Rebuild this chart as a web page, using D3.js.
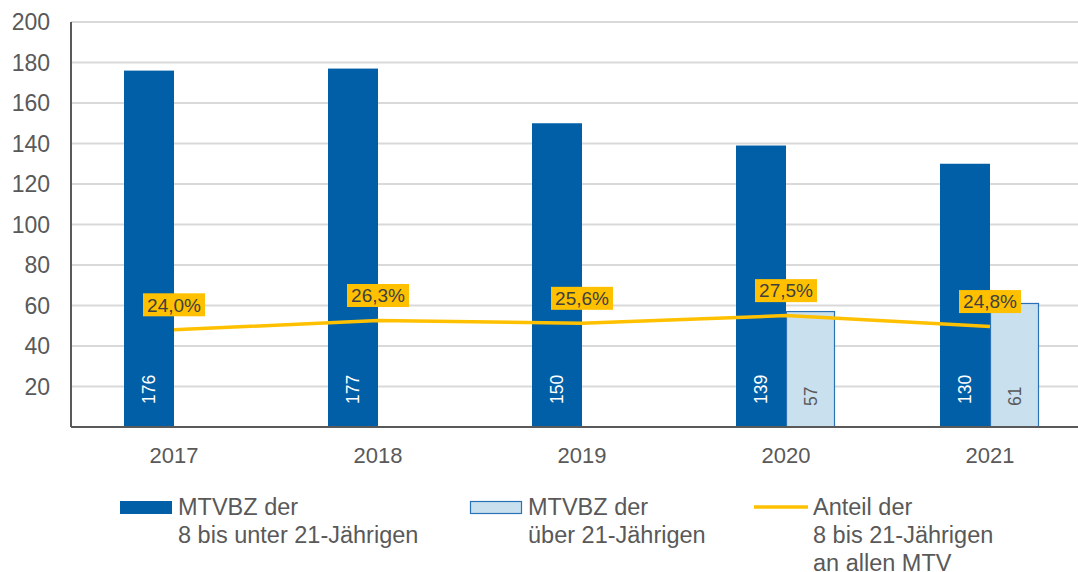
<html>
<head>
<meta charset="utf-8">
<script src="https://d3js.org/d3.v7.min.js"></script>
<style>
  body { margin: 0; background: #fff; }
  text { font-family: "Liberation Sans", Arial, sans-serif; fill: #595959; }
</style>
</head>
<body>
<script>
// data
var years = ["2017", "2018", "2019", "2020", "2021"];
var youngCount = [176, 177, 150, 139, 130];   // MTVBZ der 8 bis unter 21-Jährigen
var olderCount = [null, null, null, 57, 61];  // MTVBZ der über 21-Jährigen
var share = [24.0, 26.3, 25.6, 27.5, 24.8];   // Anteil in %
var yTicks = [20, 40, 60, 80, 100, 120, 140, 160, 180, 200];

var W = 1078, H = 572;
var margin = {left: 71, top: 22, bottom: 427};

var svg = d3.select("body").append("svg")
    .attr("width", W)
    .attr("height", H);

var x = d3.scaleBand()
    .domain(years)
    .range([margin.left + 1, margin.left + 1 + 5 * 204]);

var y = d3.scaleLinear()
    .domain([0, 200])
    .range([margin.bottom, margin.top]);

// percent axis (hidden), 0-100 % on the same height
var y2 = d3.scaleLinear()
    .domain([0, 100])
    .range([margin.bottom, margin.top]);

var barW = 50;

// gridlines
svg.append("g").selectAll("line")
    .data(yTicks)
  .enter().append("line")
    .attr("x1", margin.left).attr("x2", W)
    .attr("y1", function(d) { return y(d); })
    .attr("y2", function(d) { return y(d); })
    .attr("stroke", "#d9d9d9")
    .attr("stroke-width", 1.8);

// y labels
svg.append("g").selectAll("text")
    .data(yTicks)
  .enter().append("text")
    .attr("x", 50)
    .attr("y", function(d) { return y(d); })
    .attr("dy", "0.36em")
    .attr("text-anchor", "end")
    .style("font-size", "23px")
    .text(function(d) { return d; });

// dark bars
svg.append("g").selectAll("rect")
    .data(years)
  .enter().append("rect")
    .attr("x", function(d) { return x(d) + x.bandwidth() / 2 - barW; })
    .attr("y", function(d, i) { return y(youngCount[i]); })
    .attr("width", barW)
    .attr("height", function(d, i) { return y(0) - y(youngCount[i]); })
    .attr("fill", "#005fa6");

// light bars
var olderYears = years.filter(function(d, i) { return olderCount[i] != null; });
svg.append("g").selectAll("rect")
    .data(olderYears)
  .enter().append("rect")
    .attr("x", function(d) { return x(d) + x.bandwidth() / 2 + 0.5; })
    .attr("y", function(d) { return y(olderCount[years.indexOf(d)]); })
    .attr("width", barW - 2)
    .attr("height", function(d) { return y(0) - y(olderCount[years.indexOf(d)]); })
    .attr("fill", "#c9e0ee")
    .attr("stroke", "#2a72b5")
    .attr("stroke-width", 1.2);

// bar value labels
svg.append("g").selectAll("text")
    .data(years)
  .enter().append("text")
    .attr("transform", function(d) {
      return "translate(" + (x(d) + x.bandwidth() / 2 - barW / 2) + "," + (margin.bottom - 23) + ") rotate(-90)";
    })
    .attr("dy", "0.36em")
    .style("font-size", "17.5px")
    .style("fill", "#fff")
    .text(function(d, i) { return youngCount[i]; });

svg.append("g").selectAll("text")
    .data(olderYears)
  .enter().append("text")
    .attr("transform", function(d) {
      return "translate(" + (x(d) + x.bandwidth() / 2 + barW / 2) + "," + (margin.bottom - 21) + ") rotate(-90)";
    })
    .attr("dy", "0.36em")
    .style("font-size", "17.5px")
    .text(function(d) { return olderCount[years.indexOf(d)]; });

// axis lines
svg.append("line")
    .attr("x1", margin.left).attr("x2", margin.left)
    .attr("y1", margin.top).attr("y2", margin.bottom)
    .attr("stroke", "#595959").attr("stroke-width", 2);
svg.append("line")
    .attr("x1", margin.left).attr("x2", W)
    .attr("y1", margin.bottom).attr("y2", margin.bottom)
    .attr("stroke", "#595959").attr("stroke-width", 2);

// x labels
svg.append("g").selectAll("text")
    .data(years)
  .enter().append("text")
    .attr("x", function(d) { return x(d) + x.bandwidth() / 2; })
    .attr("y", 463)
    .attr("text-anchor", "middle")
    .style("font-size", "22px")
    .text(function(d) { return d; });

// share line
var line = d3.line()
    .x(function(d, i) { return x(years[i]) + x.bandwidth() / 2; })
    .y(function(d) { return y2(d); });

svg.append("path")
    .datum(share)
    .attr("d", line)
    .attr("fill", "none")
    .attr("stroke", "#ffc000")
    .attr("stroke-width", 3.5);

// share labels
var fmt = function(v) { return v.toFixed(1).replace(".", ",") + "%"; };
var lab = svg.append("g").selectAll("g")
    .data(share)
  .enter().append("g")
    .attr("transform", function(d, i) {
      return "translate(" + (x(years[i]) + x.bandwidth() / 2) + "," + (y2(d) - 25) + ")";
    });
lab.append("rect")
    .attr("x", -31).attr("y", -11.5)
    .attr("width", 62).attr("height", 23)
    .attr("fill", "#ffc000");
lab.append("text")
    .attr("text-anchor", "middle")
    .attr("dy", "0.36em")
    .style("font-size", "19px")
    .style("fill", "#404040")
    .text(fmt);

// legend
var legend = [
  { x: 120, lines: ["MTVBZ der", "8 bis unter 21-Jährigen"], type: "dark" },
  { x: 470, lines: ["MTVBZ der", "über 21-Jährigen"], type: "light" },
  { x: 754, lines: ["Anteil der", "8 bis 21-Jährigen", "an allen MTV"], type: "line" }
];
var lg = svg.append("g").selectAll("g")
    .data(legend)
  .enter().append("g")
    .attr("transform", function(d) { return "translate(" + d.x + ",0)"; });

lg.each(function(d) {
  var g = d3.select(this);
  if (d.type == "dark") {
    g.append("rect").attr("x", 0).attr("y", 501).attr("width", 52).attr("height", 13).attr("fill", "#005fa6");
  } else if (d.type == "light") {
    g.append("rect").attr("x", 0.5).attr("y", 501.5).attr("width", 51).attr("height", 12)
      .attr("fill", "#c9e0ee").attr("stroke", "#2a72b5").attr("stroke-width", 1.2);
  } else {
    g.append("line").attr("x1", 0).attr("x2", 54).attr("y1", 507).attr("y2", 507)
      .attr("stroke", "#ffc000").attr("stroke-width", 3.5);
  }
  g.selectAll("text")
    .data(d.lines)
  .enter().append("text")
    .attr("x", d.type == "line" ? 59 : 58)
    .attr("y", function(t, i) { return 515 + i * 28; })
    .style("font-size", "23.5px")
    .text(function(t) { return t; });
});
</script>
</body>
</html>
